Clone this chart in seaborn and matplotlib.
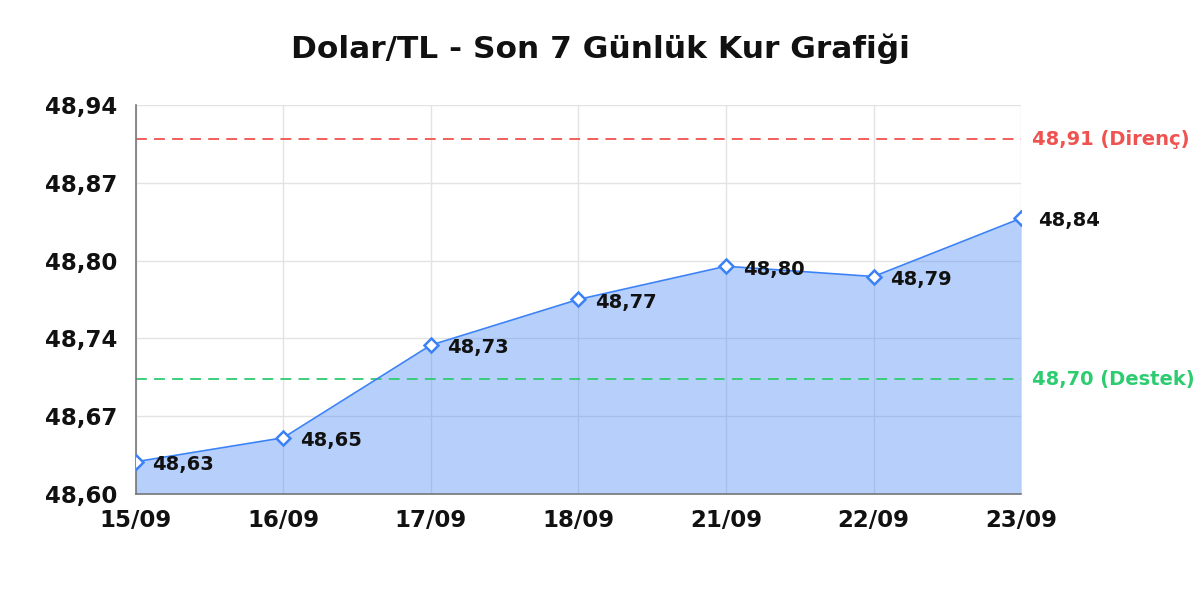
import numpy as np
import pandas as pd
import matplotlib
matplotlib.use("Agg")
import matplotlib.pyplot as plt
import seaborn as sns

# Son 7 gunluk kur verisi
dates = ["15/09", "16/09", "17/09", "18/09", "21/09", "22/09", "23/09"]
rates = [48.628, 48.649, 48.730, 48.770, 48.799, 48.790, 48.841]
resistance = 48.91
support = 48.70
y_min, y_max = 48.60, 48.94

BLUE = "#3b82f6"
RED = "#ef5350"
GREEN = "#2ecc71"
FONT = "DejaVu Sans"


def fmt(v):
    return f"{v:.2f}".replace(".", ",")


def plot_chart():
    sns.set_theme(style="whitegrid")
    plt.rcParams["font.family"] = [FONT]
    plt.rcParams["font.sans-serif"] = [FONT]

    df = pd.DataFrame({"pos": np.arange(len(dates)), "rate": rates})

    fig = plt.figure(figsize=(12, 6), dpi=100)
    ax = fig.add_axes([0.113, 0.177, 0.738, 0.648])
    ax.set_axisbelow(True)

    ax.fill_between(df["pos"], df["rate"], y_min, color=BLUE, alpha=0.37,
                    linewidth=0, zorder=1)
    sns.lineplot(data=df, x="pos", y="rate", ax=ax, color=BLUE, linewidth=1.2,
                 marker="D", markersize=7, markerfacecolor="white",
                 markeredgecolor=BLUE, markeredgewidth=1.8, zorder=3)

    for x, y in zip(df["pos"], df["rate"]):
        ax.annotate(fmt(y), (x, y), xytext=(12, -2), textcoords="offset points",
                    ha="left", va="center", fontsize=14, fontweight="bold",
                    family=FONT, color="#111111", zorder=4, annotation_clip=False)

    ax.axhline(resistance, color=RED, linestyle=(0, (6, 4)), linewidth=1.3, zorder=2)
    ax.axhline(support, color=GREEN, linestyle=(0, (6, 4)), linewidth=1.3, zorder=2)
    ax.annotate(f"{fmt(resistance)} (Direnç)", (1, resistance),
                xycoords=("axes fraction", "data"), xytext=(8, 0),
                textcoords="offset points", ha="left", va="center", fontsize=14,
                fontweight="bold", family=FONT, color=RED, annotation_clip=False)
    ax.annotate(f"{fmt(support)} (Destek)", (1, support),
                xycoords=("axes fraction", "data"), xytext=(8, 0),
                textcoords="offset points", ha="left", va="center", fontsize=14,
                fontweight="bold", family=FONT, color=GREEN, annotation_clip=False)

    ax.set_xlim(0, len(dates) - 1)
    ax.set_ylim(y_min, y_max)
    ax.set_xticks(df["pos"])
    ax.set_xticklabels(dates)
    yticks = np.linspace(y_min, y_max, 6)
    ax.set_yticks(yticks)
    ax.set_yticklabels([fmt(t) for t in yticks])
    ax.tick_params(axis="x", labelsize=16.5, pad=11, length=0)
    ax.tick_params(axis="y", labelsize=16.5, pad=13, length=0)
    for lab in ax.get_xticklabels() + ax.get_yticklabels():
        lab.set_fontweight("bold")
        lab.set_family(FONT)
        lab.set_color("#111111")

    ax.set_xlabel("")
    ax.set_ylabel("")
    ax.grid(True, color="#e3e3e3", linewidth=1)
    ax.set_facecolor("white")
    for side in ["top", "right"]:
        ax.spines[side].set_visible(False)
    for side in ["left", "bottom"]:
        ax.spines[side].set_color("#777777")
        ax.spines[side].set_linewidth(1.2)

    fig.text(0.5, 0.918, "Dolar/TL - Son 7 Günlük Kur Grafiği", ha="center",
             va="center", fontsize=22.5, fontweight="bold", family=FONT,
             color="#111111")
    fig.savefig("out.png", dpi=100, facecolor="white")


if __name__ == "__main__":
    plot_chart()
